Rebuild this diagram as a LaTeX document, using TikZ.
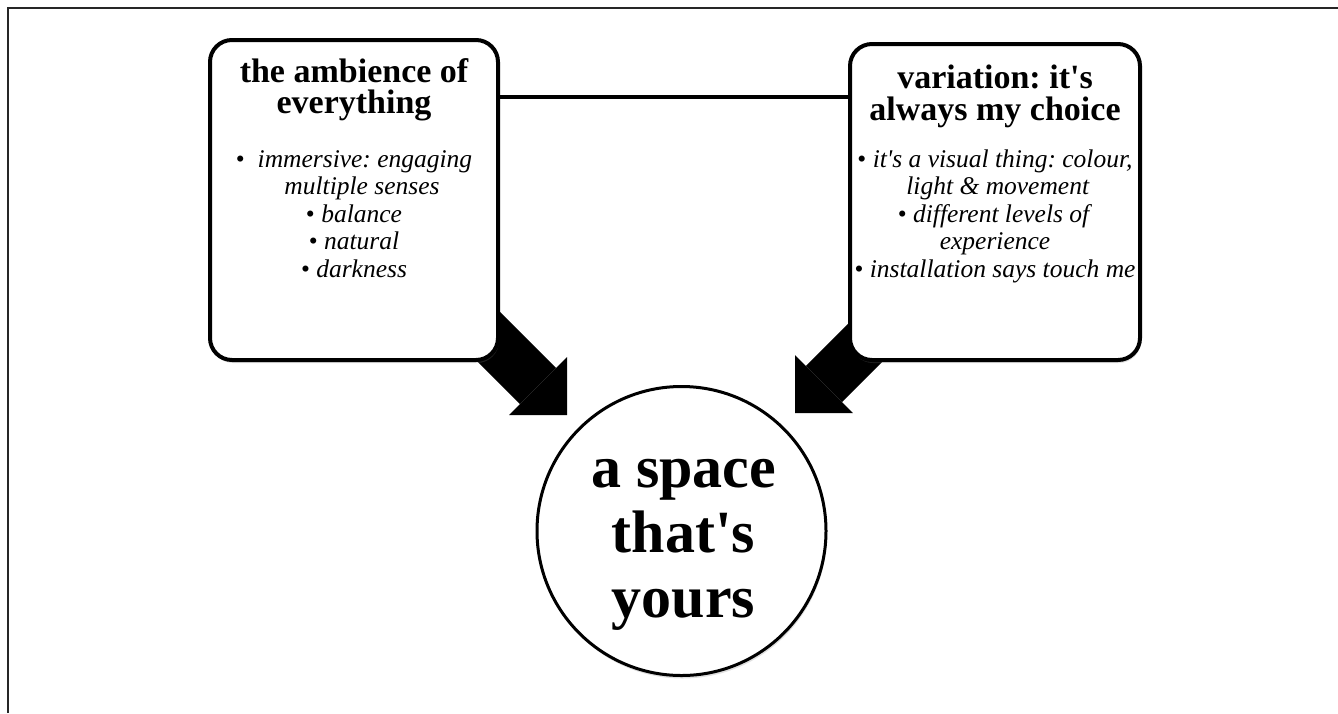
\documentclass[tikz,border=0pt]{standalone}
\usepackage{fontspec}
\setmainfont{Liberation Serif}[Ligatures=TeXOff]
\usetikzlibrary{arrows.meta,positioning,calc,shadows,backgrounds}
\frenchspacing
\newcommand{\itm}[1]{\textbullet\ \textit{#1}}
\tikzset{
  boxnode/.style={draw=black, line width=4pt, fill=white, rounded corners=22pt, inner sep=0pt,
                  drop shadow={shadow xshift=1pt, shadow yshift=-3pt, opacity=.25}},
  headtxt/.style={align=center, inner sep=0pt, anchor=north,
                  font=\fontsize{34}{31.5}\selectfont\bfseries},
  listtxt/.style={align=center, inner sep=0pt, anchor=north,
                  font=\fontsize{25.5}{27.5}\selectfont},
  ringnode/.style={circle, draw=black, line width=3pt, fill=white, minimum size=289pt, inner sep=0pt,
                   drop shadow={shadow xshift=1pt, shadow yshift=-3pt, opacity=.25}},
  bigtxt/.style={align=center, inner sep=0pt, font=\fontsize{60}{65}\selectfont\bfseries},
  link/.style={line width=4pt, draw=black},
  fatarr/.style={line width=51pt, -{Triangle[length=41pt, width=82pt, line width=0pt]}},
  frameline/.style={line width=2pt, draw=black!85}}

\begin{document}
\begin{tikzpicture}[x=1pt, y=-1pt]
  \useasboundingbox (0,0) rectangle (1338,713);
  \draw[frameline] (7.5,713) -- (7.5,7.5) -- (1338,7.5);
  % the two boxes
  \node[boxnode, minimum width=288pt, minimum height=320pt] (amb) at (354,200) {};
  \node[boxnode, minimum width=290pt, minimum height=316pt] (var) at (995,202) {};
  \node[headtxt] (ambhead) at (354,58) {the ambience of\\everything};
  \node[listtxt] (amblist) at (354,150) {
    \textbullet\hspace{13pt}\textit{immersive: engaging}\\
    \hspace*{16pt}\textit{multiple senses}\\
    \itm{balance}\\
    \itm{natural}\\
    \itm{darkness}};
  \node[headtxt] (varhead) at (995,65) {variation: it's\\always my choice};
  \node[listtxt] (varlist) at (995,149.5) {
    \itm{it's a visual thing: colour,}\\
    \hspace*{6pt}\textit{light \& movement}\\
    \itm{different levels of}\\
    \textit{experience}\\
    \itm{installation says touch me}};
  % the circle
  \node[ringnode] (space) at (681.5,531) {};
  \node[bigtxt] (spacetxt) at ($(space.center)+(2,14)$) {a space\\that's\\yours};
  % connectors
  \coordinate (lnk) at ([yshift=-59pt]amb.north east);
  \draw[link] (lnk) -- (lnk -| var.west);
  \begin{scope}[on background layer]
    \draw[fatarr] ($(amb.south east)+(-43,-57)$) -- ($(space.center)+(-114.5,-116)$);
    \draw[fatarr] ($(var.south west)+(40,-42)$) -- ($(space.center)+(113.5,-118)$);
  \end{scope}
\end{tikzpicture}
\end{document}
